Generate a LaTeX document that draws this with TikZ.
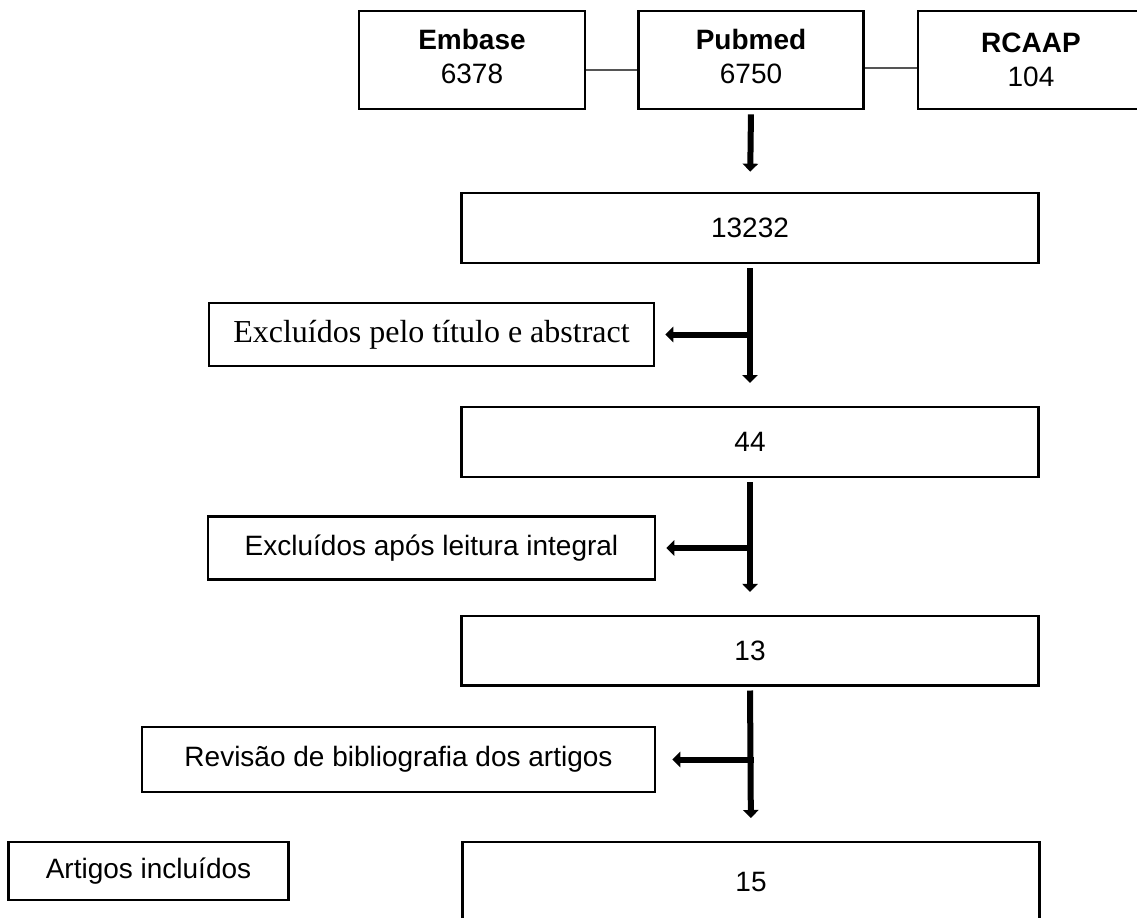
\documentclass[tikz,border=0pt]{standalone}
\usepackage{fontspec}
\setmainfont{Liberation Sans}
\newfontfamily\timesfont{Liberation Serif}
\usetikzlibrary{arrows.meta}

\tikzset{every picture/.style={line width=0.75pt}}
\tikzset{
  box/.style={draw, line width=2pt, inner sep=0pt, align=center, font=\fontsize{21}{25.5}\selectfont},
  link/.style={color={rgb, 255:red, 85; green, 85; blue, 85 }, line width=0.9pt},
  flow/.style={line width=4.5pt, -{Triangle[length=6pt,width=11.5pt]}},
}
% lift a two-line label a little inside its box
\newcommand{\lowline}[1]{\raisebox{0pt}[\height][\dimexpr\depth+6pt\relax]{#1}}

\begin{document}
\begin{tikzpicture}[x=0.75pt,y=0.75pt,yscale=-1,xscale=1]
\useasboundingbox (0,0) rectangle (1137,917);
\clip (0,0) rectangle (1137,917);

%Shape: Rectangle [sources]
\node [box, minimum width=169.5pt, minimum height=73.5pt] (embase) at (472,60) {\textbf{Embase}\\\lowline{6378}};
\node [box, minimum width=168.75pt, minimum height=73.5pt] (pubmed) at (751,60) {\textbf{Pubmed}\\\lowline{6750}};
\node [box, minimum width=169.5pt, minimum height=73.5pt] (rcaap) at (1031,60) {\textbf{RCAAP}\\104};

%Shape: Rectangle [counts]
\node [box, minimum width=432.75pt, minimum height=52.5pt] (n13232) at (750,228) {13232};
\node [box, minimum width=432.75pt, minimum height=52.5pt] (n44) at (750,442) {44};
\node [box, minimum width=432.75pt, minimum height=52pt] (n13) at (750,650.5) {13};
\node [box, minimum width=432.75pt, minimum height=60pt] (n15) at (751,882) {15};

%Shape: Rectangle [side boxes]
\node [box, minimum width=333.75pt, minimum height=47.25pt, font=\timesfont\fontsize{24}{28}\selectfont] (excl1) at (431.5,334.5) {Excluídos pelo título e abstract};
\node [box, minimum width=335.25pt, minimum height=47.25pt] (excl2) at (431.5,548) {Excluídos após leitura integral};
\node [box, minimum width=384.75pt, minimum height=48.75pt] (revisao) at (398.5,759.5) {Revisão de bibliografia dos artigos};
\node [box, minimum width=210pt, minimum height=43.5pt] (artigos) at (148.5,871) {Artigos incluídos};

%Straight Lines [between sources]
\draw [link] ([yshift=7.5pt]embase.east) -- ([yshift=7.5pt]pubmed.west);
\draw [link] ([yshift=6pt]pubmed.east) -- ([yshift=6pt]rcaap.west);

%Straight Lines [junctions]
\coordinate (j1) at (n13232.south |- excl1.east);
\coordinate (j2) at (n44.south |- excl2.east);
\coordinate (j3) at (n13.south |- revisao.east);

%Arrows
\draw [flow, shorten <=3pt, shorten >=15pt] (pubmed.south) -- (n13232.north);
\draw [flow, shorten <=3pt, shorten >=17pt] (n13232.south) -- (n44.north);
\draw [flow, shorten >=7.5pt] (j1) -- (excl1.east);
\draw [flow, shorten <=3pt, shorten >=17pt] (n44.south) -- (n13.north);
\draw [flow, shorten >=7.5pt] (j2) -- (excl2.east);
\draw [flow, shorten <=3pt, shorten >=17pt] (n13.south) -- (n15.north);
\draw [flow, shorten <=-3pt, shorten >=12pt] (j3) -- (revisao.east);

\end{tikzpicture}
\end{document}
